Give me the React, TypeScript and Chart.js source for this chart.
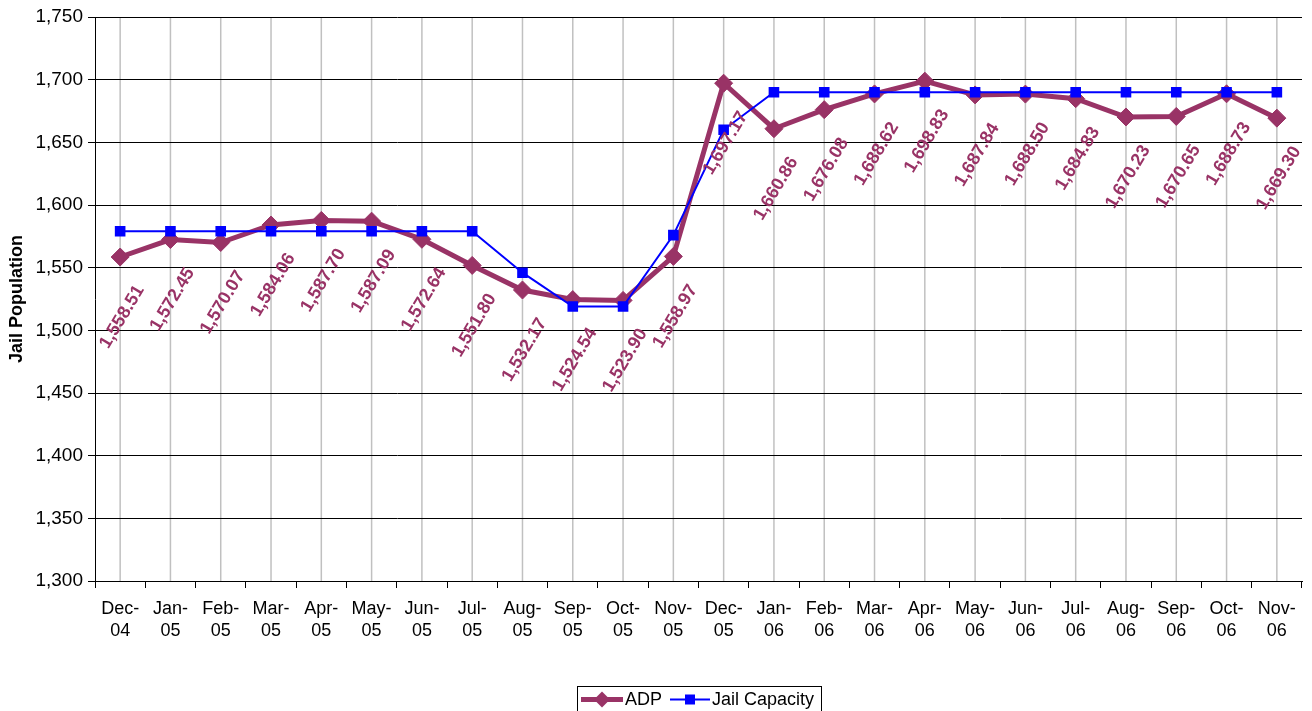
import React, { useEffect, useRef } from 'react';
import { Chart, registerables } from 'chart.js';

Chart.register(...registerables);

const categories = [
  'Dec-04', 'Jan-05', 'Feb-05', 'Mar-05', 'Apr-05', 'May-05', 'Jun-05', 'Jul-05',
  'Aug-05', 'Sep-05', 'Oct-05', 'Nov-05', 'Dec-05', 'Jan-06', 'Feb-06', 'Mar-06',
  'Apr-06', 'May-06', 'Jun-06', 'Jul-06', 'Aug-06', 'Sep-06', 'Oct-06', 'Nov-06',
];

const tickLabels = categories.map((c) => [c.slice(0, 4), c.slice(4)]);

const adpValues = [
  1558.51, 1572.45, 1570.07, 1584.06, 1587.7, 1587.09, 1572.64, 1551.8,
  1532.17, 1524.54, 1523.9, 1558.97, 1697.17, 1660.86, 1676.08, 1688.62,
  1698.83, 1687.84, 1688.5, 1684.83, 1670.23, 1670.65, 1688.73, 1669.3,
];

const jailCapacity = [
  1579, 1579, 1579, 1579, 1579, 1579, 1579, 1579,
  1546, 1519, 1519, 1576, 1660, 1690, 1690, 1690,
  1690, 1690, 1690, 1690, 1690, 1690, 1690, 1690,
];

const yMin = 1300;
const yMax = 1750;
const yStep = 50;

const seriesNames = ['ADP', 'Jail Capacity'];
const FONT = "'Liberation Sans', Arial, sans-serif";
const ADP_COLOR = '#993366';
const CAP_COLOR = '#0000FF';

export default function App() {
  const canvasRef = useRef<HTMLCanvasElement | null>(null);

  useEffect(() => {
    if (!canvasRef.current) return;

    const verticalGrid = {
      id: 'verticalGrid',
      beforeDraw(chart: any) {
        const { ctx, chartArea, scales } = chart;
        const x = scales.x;
        ctx.save();
        ctx.strokeStyle = '#c0c0c0';
        ctx.lineWidth = 1.5;
        for (let i = 0; i < categories.length; i++) {
          const px = x.getPixelForValue(i);
          ctx.beginPath();
          ctx.moveTo(px, chartArea.top);
          ctx.lineTo(px, chartArea.bottom);
          ctx.stroke();
        }
        ctx.restore();
      },
    };

    const dataLabels = {
      id: 'adpLabels',
      afterDatasetsDraw(chart: any) {
        const { ctx } = chart;
        const meta = chart.getDatasetMeta(0);
        ctx.save();
        ctx.fillStyle = ADP_COLOR;
        ctx.font = `bold 18px ${FONT}`;
        ctx.textAlign = 'center';
        ctx.textBaseline = 'middle';
        meta.data.forEach((pt: any, i: number) => {
          const text = adpValues[i].toLocaleString('en-US', {
            minimumFractionDigits: 2,
            maximumFractionDigits: 2,
          });
          ctx.save();
          ctx.translate(pt.x + 2, pt.y + 60);
          ctx.rotate((-59 * Math.PI) / 180);
          ctx.fillText(text, 0, 0);
          ctx.restore();
        });
        ctx.restore();
      },
    };

    const customLegend = {
      id: 'customLegend',
      afterDraw(chart: any) {
        const { ctx } = chart;
        ctx.save();
        ctx.strokeStyle = '#000';
        ctx.lineWidth = 1;
        ctx.strokeRect(577.5, 686.5, 244, 30);
        const cy = 699.5;
        // ADP
        ctx.strokeStyle = ADP_COLOR;
        ctx.lineWidth = 5;
        ctx.beginPath();
        ctx.moveTo(581, cy);
        ctx.lineTo(623, cy);
        ctx.stroke();
        ctx.fillStyle = ADP_COLOR;
        ctx.beginPath();
        ctx.moveTo(602, cy - 8);
        ctx.lineTo(610, cy);
        ctx.lineTo(602, cy + 8);
        ctx.lineTo(594, cy);
        ctx.closePath();
        ctx.fill();
        // Capacity
        ctx.strokeStyle = CAP_COLOR;
        ctx.lineWidth = 2;
        ctx.beginPath();
        ctx.moveTo(670, cy);
        ctx.lineTo(710, cy);
        ctx.stroke();
        ctx.fillStyle = CAP_COLOR;
        ctx.fillRect(685, cy - 5, 10, 10);
        ctx.fillStyle = '#000';
        ctx.font = `18px ${FONT}`;
        ctx.textAlign = 'left';
        ctx.textBaseline = 'middle';
        ctx.fillText(seriesNames[0], 625, cy + 1);
        ctx.fillText(seriesNames[1], 712, cy + 1);
        ctx.restore();
      },
    };

    const chart = new Chart(canvasRef.current, {
      type: 'line',
      data: {
        labels: tickLabels as any,
        datasets: [
          {
            label: seriesNames[0],
            data: adpValues,
            borderColor: ADP_COLOR,
            backgroundColor: ADP_COLOR,
            borderWidth: 5,
            pointStyle: 'rectRot',
            pointRadius: 9,
            pointBorderWidth: 1,
            pointBackgroundColor: ADP_COLOR,
            pointBorderColor: ADP_COLOR,
            tension: 0,
            order: 1,
          },
          {
            label: seriesNames[1],
            data: jailCapacity,
            borderColor: CAP_COLOR,
            backgroundColor: CAP_COLOR,
            borderWidth: 2,
            pointStyle: 'rect',
            pointRadius: 7.5,
            pointBorderWidth: 0,
            pointBackgroundColor: CAP_COLOR,
            pointBorderColor: CAP_COLOR,
            tension: 0,
            order: 0,
          },
        ],
      },
      options: {
        responsive: true,
        maintainAspectRatio: false,
        animation: false,
        events: [],
        layout: { padding: { top: 17, right: 7, bottom: 70, left: 0 } },
        plugins: {
          legend: { display: false },
          tooltip: { enabled: false },
        },
        scales: {
          x: {
            type: 'category',
            offset: true,
            grid: {
              offset: true,
              drawOnChartArea: false,
              drawTicks: true,
              tickLength: 7,
              color: '#000',
              tickColor: '#000',
            },
            border: { color: '#000', width: 1 },
            ticks: {
              color: '#000',
              font: { family: FONT, size: 18, lineHeight: 1.22 },
              padding: 10,
              maxRotation: 0,
              autoSkip: false,
            },
            afterFit(s: any) {
              s.height = 60;
            },
          },
          y: {
            min: yMin,
            max: yMax,
            grid: {
              color: '#000',
              lineWidth: 1,
              drawTicks: true,
              tickLength: 7,
              tickColor: '#000',
            },
            border: { color: '#000', width: 1 },
            ticks: {
              stepSize: yStep,
              color: '#000',
              font: { family: FONT, size: 19 },
              padding: 5,
              callback: (v: any) => Number(v).toLocaleString('en-US'),
            },
            title: {
              display: true,
              text: 'Jail Population',
              color: '#000',
              font: { family: FONT, size: 18, weight: 'bold', lineHeight: 1.2 },
              padding: { top: 6, bottom: 0 },
            },
            afterFit(s: any) {
              s.width = 95;
            },
          },
        },
      },
      plugins: [verticalGrid, dataLabels, customLegend],
    });

    return () => chart.destroy();
  }, []);

  return (
    <div style={{ position: 'absolute', left: 0, top: 0, width: 1312, height: 711, background: '#fff' }}>
      <canvas ref={canvasRef} />
    </div>
  );
}
